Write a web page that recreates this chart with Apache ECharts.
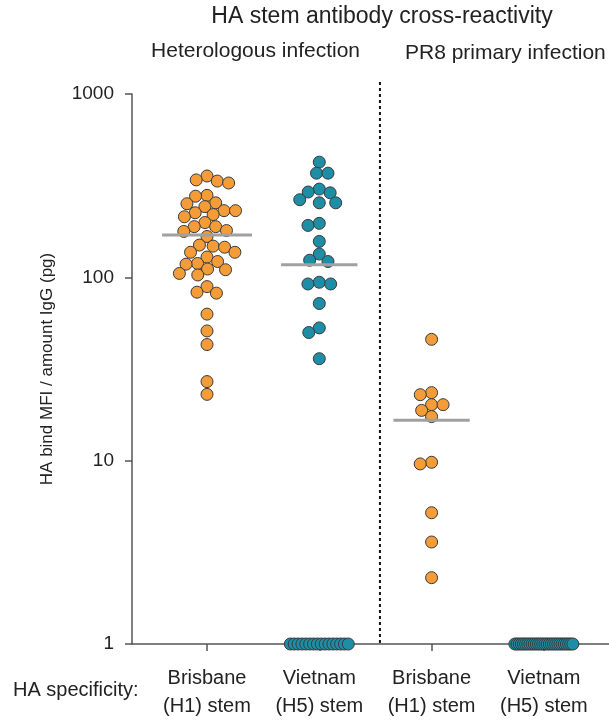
<!DOCTYPE html>
<html><head><meta charset="utf-8">
<script src="https://cdn.jsdelivr.net/npm/echarts@6/dist/echarts.min.js"></script>
<style>html,body{margin:0;padding:0;background:#fff}#c{width:609px;height:720px}</style>
</head><body><div id="c"></div>
<script>
const categories = ['Brisbane\n(H1) stem', 'Vietnam\n(H5) stem', 'Brisbane\n(H1) stem', 'Vietnam\n(H5) stem'];
const yTickValues = [1, 10, 100, 1000];
const brisbaneHeterologous = [357, 340, 335, 327, 280, 277, 255, 252, 243, 231, 225, 231, 220, 214, 199, 189, 180, 178, 189, 167, 150, 148, 146, 137, 137, 129, 122, 119, 118, 111, 110, 105, 103, 89, 83, 82, 63, 51, 43, 27, 23];
const vietnamHeterologous = [425, 370, 370, 303, 292, 289, 265, 255, 255, 197, 192, 157, 134, 124, 122, 94, 92, 92, 72, 53, 50, 36, 1, 1, 1, 1, 1, 1, 1, 1, 1, 1, 1, 1, 1, 1, 1, 1];
const brisbanePR8 = [45.9, 23.5, 22.9, 20.2, 20.2, 18.8, 17.4, 9.8, 9.6, 5.2, 3.6, 2.3];
const vietnamPR8 = [1, 1, 1, 1, 1, 1, 1, 1, 1, 1, 1, 1, 1, 1, 1, 1, 1, 1, 1, 1, 1, 1, 1, 1, 1, 1, 1, 1];
const medians = [170, 117, 16.6, null];
const groups = [brisbaneHeterologous, vietnamHeterologous, brisbanePR8, vietnamPR8];

const ORANGE = '#F49C38', TEAL = '#1D8EA6';
const colors = [ORANGE, TEAL, ORANGE, TEAL];
const FONT = "'Liberation Sans', Arial, sans-serif";
const GRID = {left: 132, top: 94, right: 0, bottom: 70};
const X_MIN = 0.332, X_MAX = 4.58, DIVIDER = 2.54;
const plotW = 609 - GRID.left - GRID.right, plotH = 720 - GRID.top - GRID.bottom;
const pxPerUnit = plotW / (X_MAX - X_MIN);
const pxPerDecade = plotH / 3;
const DIAM = 11.5, FLOOR_HALF = 29;

function swarm(values) {
  const pts = values.map((v, i) => ({v, i, y: -Math.log10(v) * pxPerDecade, x: 0}));
  const floor = pts.filter(p => p.v <= 1);
  const rest = pts.filter(p => p.v > 1).sort((a, b) => a.y - b.y);
  const placed = [];
  rest.forEach(p => {
    const iv = [];
    placed.forEach(q => {
      const dy = Math.abs(q.y - p.y);
      if (dy < DIAM) { const dx = Math.sqrt(DIAM * DIAM - dy * dy); iv.push([q.x - dx, q.x + dx]); }
    });
    const cands = [0];
    iv.forEach(r => { cands.push(r[0], r[1]); });
    cands.sort((a, b) => Math.abs(a) - Math.abs(b));
    for (const c of cands) {
      if (!iv.some(r => c > r[0] + 1e-6 && c < r[1] - 1e-6)) { p.x = c; break; }
    }
    placed.push(p);
  });
  floor.forEach((p, k) => { p.x = floor.length > 1 ? -FLOOR_HALF + 2 * FLOOR_HALF * k / (floor.length - 1) : 0; });
  return rest.concat(floor).map(p => [p.x / pxPerUnit, p.v]);
}

const series = [];
groups.forEach((vals, g) => {
  series.push({
    type: 'scatter', clip: false, symbolSize: 12, z: 3,
    data: swarm(vals).map(d => [g + 1 + d[0], d[1]]),
    itemStyle: {color: colors[g], borderColor: '#3a3a3a', borderWidth: 1, opacity: 1}
  });
});
const medianHalf = [0.4, 0.34, 0.34, 0.34];
medians.forEach((m, g) => {
  if (m == null) return;
  series.push({
    type: 'line', symbol: 'none', z: 4, silent: true,
    data: [[g + 1 - medianHalf[g], m], [g + 1 + medianHalf[g], m]],
    lineStyle: {color: '#a0a0a0', width: 3}
  });
});

const chart = echarts.init(document.getElementById('c'), null, {renderer: 'canvas'});
const axisColor = '#555';
chart.setOption({
  animation: false,
  backgroundColor: '#fff',
  textStyle: {fontFamily: FONT},
  grid: GRID,
  xAxis: {
    type: 'value', min: X_MIN, max: X_MAX,
    axisLine: {show: true, lineStyle: {color: axisColor, width: 1.5}},
    axisTick: {show: true, customValues: [1, 2, 3, 4], length: 7, lineStyle: {color: axisColor, width: 1.5}},
    axisLabel: {customValues: [1, 2, 3, 4], formatter: v => categories[Math.round(v) - 1], fontSize: 20, lineHeight: 28, color: '#222', margin: 20, fontFamily: FONT},
    splitLine: {show: false}
  },
  yAxis: {
    type: 'log', logBase: 10, min: 1, max: 1000,
    axisLine: {show: true, lineStyle: {color: axisColor, width: 1.5}},
    axisTick: {show: true, length: 7, lineStyle: {color: axisColor, width: 1.5}},
    axisLabel: {fontSize: 19, color: '#222', margin: 18, fontFamily: FONT, formatter: v => String(Math.round(v))},
    splitLine: {show: false}, minorTick: {show: false},
    name: 'HA bind MFI / amount IgG (pg)', nameLocation: 'middle', nameGap: 76, nameRotate: 90,
    nameTextStyle: {fontSize: 17, color: '#222', fontFamily: FONT}
  },
  series: series
});

const divTop = chart.convertToPixel({gridIndex: 0}, [DIVIDER, 1000]);
const divBot = chart.convertToPixel({gridIndex: 0}, [DIVIDER, 1]);
chart.setOption({
  graphic: [
    {type: 'line', shape: {x1: divTop[0], y1: divTop[1] - 12, x2: divBot[0], y2: divBot[1]}, style: {stroke: '#111', lineWidth: 2, lineDash: [3, 3]}, z: 1},
    {type: 'text', x: 382, y: 17, style: {text: 'HA stem antibody cross-reactivity', font: '23px ' + FONT, fill: '#222', textAlign: 'center', textVerticalAlign: 'middle'}},
    {type: 'text', x: 360, y: 51, style: {text: 'Heterologous infection', font: '21px ' + FONT, fill: '#222', textAlign: 'right', textVerticalAlign: 'middle'}},
    {type: 'text', x: 405, y: 53, style: {text: 'PR8 primary infection', font: '21px ' + FONT, fill: '#222', textAlign: 'left', textVerticalAlign: 'middle'}},
    {type: 'text', x: 13, y: 690, style: {text: 'HA specificity:', font: '20px ' + FONT, fill: '#222', textAlign: 'left', textVerticalAlign: 'middle'}}
  ]
});
</script></body></html>
